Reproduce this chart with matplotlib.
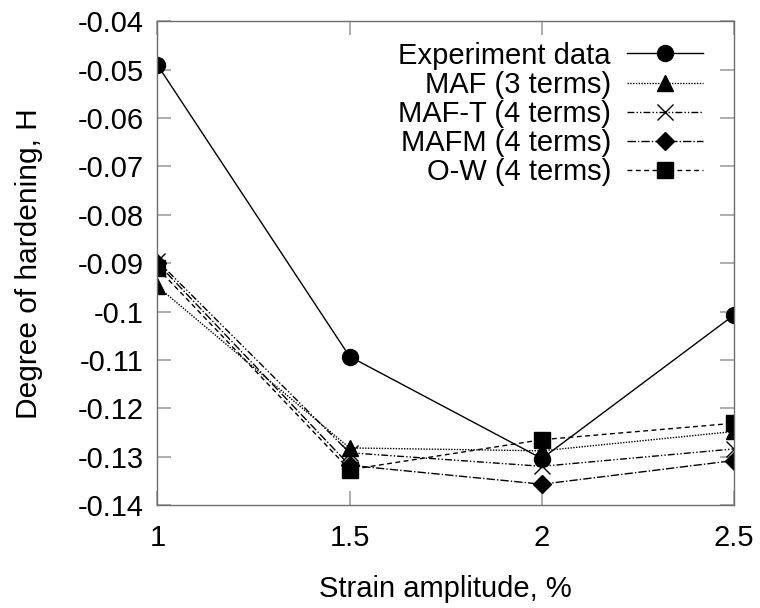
import matplotlib
matplotlib.use("Agg")
import matplotlib.pyplot as plt

plt.rcParams['font.family'] = ['Liberation Sans', 'DejaVu Sans']

# strain amplitude (%)
strain = [1.0, 1.5, 2.0, 2.5]

# degree of hardening H
h_exp = [-0.0490, -0.1093, -0.1304, -0.1007]
h_maf = [-0.0948, -0.1282, -0.1288, -0.1248]
h_maft = [-0.0895, -0.1292, -0.1320, -0.1284]
h_mafm = [-0.0900, -0.1318, -0.1357, -0.1308]
h_ow = [-0.0910, -0.1327, -0.1265, -0.1231]

labels = ["Experiment data", "MAF (3 terms)", "MAF-T (4 terms)",
          "MAFM (4 terms)", "O-W (4 terms)"]

yticks = [-0.04, -0.05, -0.06, -0.07, -0.08, -0.09, -0.1, -0.11, -0.12, -0.13, -0.14]
xticks = [1, 1.5, 2, 2.5]

fig = plt.figure(figsize=(7.6, 6.08), dpi=100)
ax = fig.add_axes([0.207, 0.1694, 0.759, 0.7956])

lw = 1.0
ax.plot(strain, h_exp, color='k', lw=lw, ls='-', marker='o', ms=11.5, label=labels[0])
ax.plot(strain, h_maf, color='k', lw=lw, ls=(0, (1, 1)), marker='^', ms=11, label=labels[1])
ax.plot(strain, h_maft, color='k', lw=lw, ls=(0, (5, 1.5, 1, 1.5, 1, 1.5)), marker='x',
        ms=11, mew=1.0, label=labels[2])
ax.plot(strain, h_mafm, color='k', lw=lw, ls=(0, (6, 1.5, 1, 1.5)), marker='D', ms=9,
        label=labels[3])
ax.plot(strain, h_ow, color='k', lw=lw, ls=(0, (3.5, 2.5)), marker='s', ms=11, label=labels[4])

ax.set_xlim(1, 2.5)
ax.set_ylim(-0.14, -0.04)
ax.set_xticks(xticks)
ax.set_xticklabels([f"{t:g}" for t in xticks])
ax.set_yticks(yticks)
ax.set_yticklabels([f"{t:g}" for t in yticks])

for s in ax.spines.values():
    s.set_color('#6e6e6e')
    s.set_linewidth(1.0)
ax.tick_params(direction='in', length=10, width=1.2, color='#a0a0a0',
               top=True, right=True, labelsize=21)
ax.tick_params(axis='x', pad=14)
ax.tick_params(axis='y', pad=10)
for lab in ax.get_xticklabels() + ax.get_yticklabels():
    lab.set_clip_on(False)

ax.set_xlabel("Strain amplitude, %", fontsize=21, labelpad=16)
ax.set_ylabel("Degree of hardening, H", fontsize=21.5, labelpad=25)

leg = ax.legend(loc='upper right', frameon=False, fontsize=21, markerfirst=False,
                handlelength=2.6, labelspacing=0.04, handletextpad=0.55,
                borderaxespad=0.3, bbox_to_anchor=(0.981, 1.0))
for t in leg.get_texts():
    t.set_ha('right')

fig.savefig("out.png", dpi=100)
